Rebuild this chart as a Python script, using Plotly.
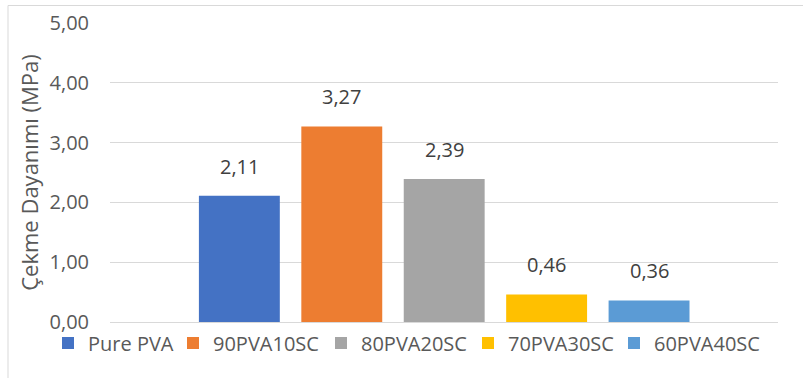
import plotly.graph_objects as go

# Tensile strength of PVA / SC blends
samples = ["Pure PVA", "90PVA10SC", "80PVA20SC", "70PVA30SC", "60PVA40SC"]
strength = [2.11, 3.27, 2.39, 0.46, 0.36]
colors = ["#4472C4", "#ED7D31", "#A5A5A5", "#FFC000", "#5B9BD5"]
y_ticks = [0, 1, 2, 3, 4, 5]

FONT = "Open Sans"

# plot-area geometry in pixels
L, R, T, B = 110, 778, 23, 322
PW, PH = R - L, B - T
legend_left_px = [48, 173, 321, 468, 614]


def fmt(v):
    return f"{v:.2f}".replace(".", ",")


fig = go.Figure()
legend_layout = {}
for i, (name, val, col) in enumerate(zip(samples, strength, colors)):
    lg = "legend" if i == 0 else f"legend{i + 1}"
    fig.add_trace(go.Bar(
        x=[name], y=[val], name=name,
        marker=dict(color=col, line=dict(width=0)),
        width=0.79, legend=lg,
        hoverinfo="skip",
    ))
    fig.add_annotation(
        x=name, y=val, text=fmt(val), showarrow=False,
        yanchor="bottom", yshift=14,
        font=dict(family=FONT, size=20, color="#404040"),
    )
    legend_layout[lg] = dict(
        orientation="h", x=(legend_left_px[i] - L) / PW, xanchor="left",
        y=(B - 343) / PH, yanchor="middle",
        font=dict(family=FONT, size=20, color="#595959"),
        itemwidth=30, bgcolor="rgba(0,0,0,0)",
    )

fig.update_layout(
    width=803, height=378,
    margin=dict(l=L, r=803 - R, t=T, b=378 - B, autoexpand=False),
    paper_bgcolor="white", plot_bgcolor="white",
    barmode="overlay",
    showlegend=True,
    xaxis=dict(
        type="category", categoryorder="array", categoryarray=samples,
        range=[-1.263, 5.259], showticklabels=False, showgrid=False,
        zeroline=False, showline=False, ticks="",
    ),
    yaxis=dict(
        range=[0, 5], tickvals=y_ticks,
        ticktext=[fmt(v) for v in y_ticks],
        showgrid=True, gridcolor="#D9D9D9", gridwidth=1,
        zeroline=True, zerolinecolor="#D9D9D9", zerolinewidth=1,
        showline=False, ticks="", ticklabelstandoff=20,
        tickfont=dict(family=FONT, size=20, color="#595959"),
        title=dict(text="Çekme Dayanımı (MPa)", standoff=4,
                   font=dict(family=FONT, size=22, color="#595959")),
    ),
    shapes=[dict(
        type="rect", xref="paper", yref="paper",
        x0=(8 - L) / PW, x1=(810 - L) / PW,
        y0=(B - 385) / PH, y1=(B - 5.5) / PH,
        line=dict(color="#D9D9D9", width=1), fillcolor="rgba(0,0,0,0)",
        layer="below",
    )],
    **legend_layout,
)

fig.write_html("out.html")
